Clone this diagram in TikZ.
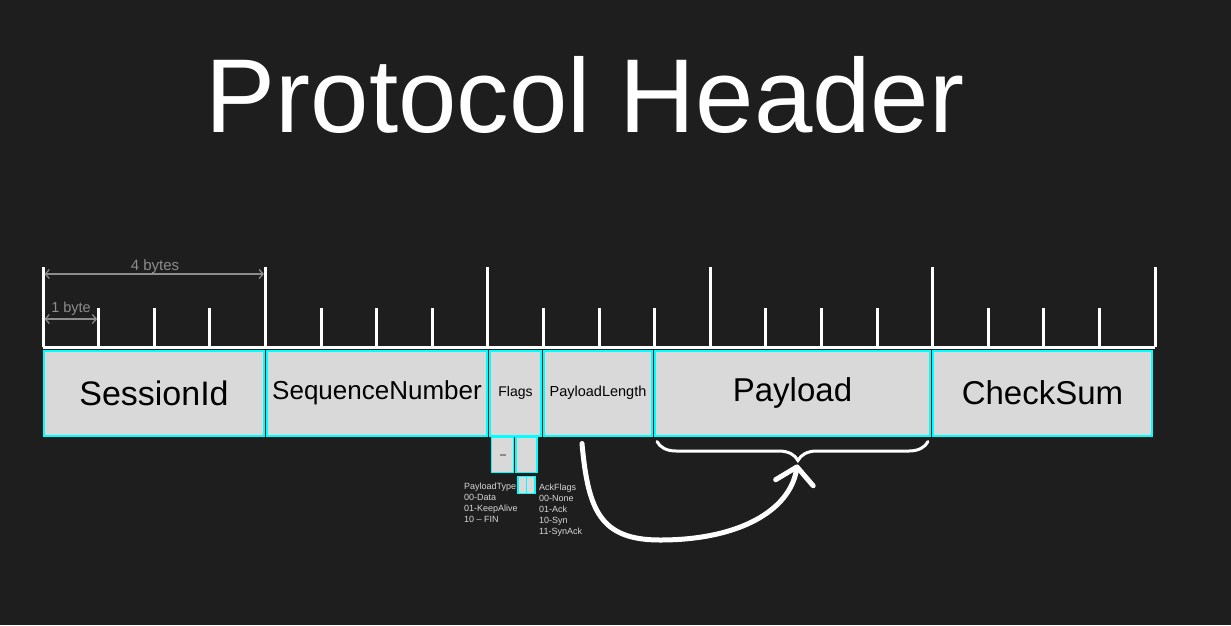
\documentclass[tikz,border=0pt]{standalone}
\usepackage{fontspec}
\setmainfont{Liberation Sans}
\usetikzlibrary{positioning, arrows.meta, decorations.pathreplacing, calc}

\definecolor{bgdark}{RGB}{30,30,30}
\definecolor{fieldgray}{RGB}{217,217,217}
\definecolor{bordercyan}{RGB}{0,255,255}
\definecolor{dimgray}{RGB}{140,140,140}
\definecolor{notegray}{RGB}{215,215,215}

\begin{document}
\begin{tikzpicture}[x=1pt, y=-1pt,
    field/.style={draw=bordercyan, line width=2pt, fill=fieldgray, minimum height=85pt, inner sep=0pt,
      outer sep=0pt, text=black},
    subfield/.style={draw=bordercyan, line width=1.2pt, fill=fieldgray, inner sep=0pt, outer sep=0pt},
    tick/.style={draw=white, line width=3pt},
    dim/.style={draw=dimgray, line width=1.2pt, {Straight Barb[length=4pt,width=9pt]}-{Straight Barb[length=4pt,width=9pt]}},
    note/.style={text=notegray, align=left, anchor=north west, inner sep=0pt, font=\fontsize{9}{11}\selectfont}
  ]
  \fill[bgdark] (0,0) rectangle (1231,625);
  \useasboundingbox (0,0) rectangle (1231,625);

  % title
  \node[text=white, font=\fontsize{105}{110}\selectfont] (title) at (585,95) {Protocol Header};

  % byte ruler
  \draw[tick] (43,347) -- (1155,347);
  \foreach \i in {0,...,20} {
    \coordinate (t\i) at ({43+55.6*\i},347);
    \draw[tick] (t\i) -- ++(0,-39);
  }
  \foreach \i in {0,4,...,20}
    \draw[tick] (t\i) -- ++(0,-80);

  \draw[dim] ([xshift=1.5pt, yshift=73pt]t0) -- ([xshift=-1.5pt, yshift=73pt]t4);
  \node[text=dimgray, font=\fontsize{15}{18}\selectfont] (fourbytes) at (155,267) {4 bytes};
  \draw[dim] ([xshift=1.5pt, yshift=28pt]t0) -- ([xshift=-1.5pt, yshift=28pt]t1);
  \node[text=dimgray, font=\fontsize{14.5}{18}\selectfont] (onebyte) at (71,309) {1 byte};

  % header fields
  \node[field, minimum width=220pt, font=\fontsize{34}{40}\selectfont, anchor=west] (sessionid) at (44,393) {SessionId};
  \node[field, minimum width=220pt, font=\fontsize{26}{30}\selectfont, right=3pt of sessionid] (seqnum) {SequenceNumber};
  \node[field, minimum width=51pt, font=\fontsize{14}{17}\selectfont, right=3pt of seqnum] (flags) {Flags};
  \node[field, minimum width=108pt, font=\fontsize{14.5}{17}\selectfont, right=3pt of flags] (paylen) {PayloadLength};
  \node[field, minimum width=275pt, font=\fontsize{33}{40}\selectfont, right=3pt of paylen] (payload) {Payload};
  \node[field, minimum width=219pt, font=\fontsize{33}{40}\selectfont, right=3pt of payload] (checksum) {CheckSum};

  % flag bits
  \node[subfield, minimum width=22pt, minimum height=35pt, anchor=north west] (ptype) at ([xshift=1.5pt, yshift=-2pt]flags.south west) {};
  \node[subfield, minimum width=21pt, minimum height=35pt, right=2.5pt of ptype] (ackbits) {};
  \draw[dimgray, line width=1.5pt] ([xshift=-3pt]ptype.center) -- ([xshift=3pt]ptype.center);
  \node[subfield, minimum width=17pt, minimum height=17pt, below=4pt of ackbits] (bits) {};
  \draw[bordercyan, line width=1.2pt] (bits.north) -- (bits.south);

  \node[note] (ptypenote) at (464,483) {PayloadType\\00-Data\\01-KeepAlive\\10 – FIN};
  \node[note] (acknote) at (539,484) {AckFlags\\00-None\\01-Ack\\10-Syn\\11-SynAck};

  % payload brace and arrow
  \draw[white, line width=3pt, line cap=round, decorate,
    decoration={brace, mirror, amplitude=19pt, aspect=0.52}]
    ([xshift=2pt, yshift=-6pt]payload.south west) -- ([xshift=-2pt, yshift=-6pt]payload.south east);
  \coordinate (bracetip) at ($(payload.south west)!0.52!(payload.south east) + (0,25)$);
  \coordinate (arrstart) at ([xshift=-16pt, yshift=-8pt]paylen.south);
  \coordinate (loop) at (660,540);
  \draw[white, line width=5pt, line cap=round, shorten >=4pt,
    -{Straight Barb[round, length=16pt, width=38pt]}]
    (arrstart) .. controls (588,510) and (600,540) .. (loop)
    .. controls (740,540) and (790,510) .. (bracetip);
\end{tikzpicture}
\end{document}
